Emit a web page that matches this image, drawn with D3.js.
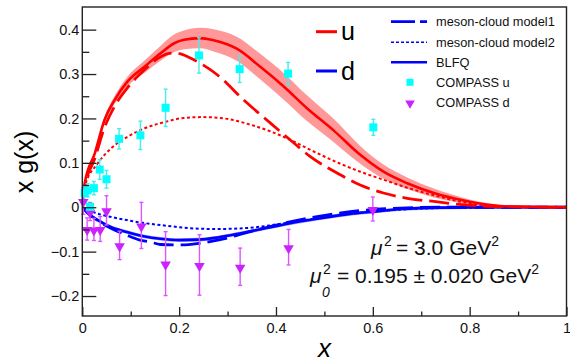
<!DOCTYPE html>
<html>
<head>
<meta charset="utf-8">
<script src="https://cdn.jsdelivr.net/npm/d3@7"></script>
<style>
  body { margin: 0; background: #fff; }
  svg { display: block; font-family: 'Liberation Sans', Arial, sans-serif; }
</style>
</head>
<body>
<div id="chart"></div>
<script>
// u quark, BLFQ (solid + band)
const uBlfqX = [0.001, 0.005, 0.026, 0.046, 0.067, 0.094, 0.129, 0.163, 0.191, 0.21, 0.243, 0.271, 0.319, 0.367, 0.416, 0.464, 0.52, 0.574, 0.622, 0.671, 0.726, 0.788, 0.843, 0.9, 1.0];
const uBlfqY = [0.01, 0.054, 0.122, 0.197, 0.242, 0.284, 0.317, 0.348, 0.370, 0.377, 0.381, 0.376, 0.357, 0.317, 0.272, 0.223, 0.172, 0.118, 0.080, 0.054, 0.032, 0.015, 0.005, 0.001, 0];
const uBlfqErr = [0, 0.002, 0.005, 0.007, 0.009, 0.011, 0.014, 0.017, 0.02, 0.021, 0.023, 0.025, 0.027, 0.029, 0.03, 0.029, 0.026, 0.02, 0.016, 0.013, 0.01, 0.006, 0.003, 0.001, 0];
// u quark, meson-cloud models
const uM1X = [0.001, 0.005, 0.026, 0.046, 0.067, 0.094, 0.129, 0.16, 0.185, 0.2, 0.223, 0.25, 0.278, 0.333, 0.388, 0.429, 0.471, 0.533, 0.574, 0.622, 0.671, 0.726, 0.774, 0.822, 0.9, 1.0];
const uM1Y = [0.01, 0.045, 0.11, 0.18, 0.228, 0.27, 0.31, 0.338, 0.347, 0.346, 0.336, 0.32, 0.299, 0.242, 0.190, 0.152, 0.114, 0.073, 0.050, 0.032, 0.020, 0.013, 0.007, 0.003, 0.001, 0];
const uM2X = [0.001, 0.005, 0.032, 0.06, 0.094, 0.129, 0.174, 0.209, 0.25, 0.299, 0.347, 0.388, 0.429, 0.464, 0.533, 0.574, 0.622, 0.671, 0.726, 0.774, 0.822, 0.9, 1.0];
const uM2Y = [0.005, 0.046, 0.099, 0.133, 0.159, 0.178, 0.193, 0.201, 0.203, 0.199, 0.186, 0.171, 0.152, 0.133, 0.098, 0.080, 0.062, 0.044, 0.027, 0.014, 0.005, 0.001, 0];
// d quark
const dBlfqX = [0.001, 0.01, 0.032, 0.06, 0.092, 0.129, 0.161, 0.2, 0.24, 0.28, 0.33, 0.38, 0.43, 0.485, 0.553, 0.6, 0.66, 0.74, 0.85, 1.0];
const dBlfqY = [0, -0.012, -0.029, -0.045, -0.056, -0.066, -0.071, -0.074, -0.073, -0.068, -0.058, -0.047, -0.036, -0.026, -0.015, -0.010, -0.004, -0.001, 0, 0];
const dM1X = [0.001, 0.01, 0.032, 0.057, 0.09, 0.119, 0.14, 0.161, 0.195, 0.22, 0.243, 0.285, 0.347, 0.416, 0.485, 0.553, 0.657, 0.75, 0.85, 1.0];
const dM1Y = [0, -0.012, -0.03, -0.046, -0.062, -0.074, -0.078, -0.084, -0.085, -0.084, -0.081, -0.073, -0.055, -0.036, -0.021, -0.010, -0.002, 0, 0, 0];
const dM2X = [0.001, 0.03, 0.06, 0.092, 0.13, 0.161, 0.2, 0.23, 0.278, 0.32, 0.367, 0.416, 0.485, 0.553, 0.62, 0.7, 0.8, 0.9, 1.0];
const dM2Y = [0, -0.014, -0.022, -0.029, -0.036, -0.040, -0.045, -0.048, -0.049, -0.048, -0.044, -0.036, -0.025, -0.015, -0.008, -0.003, -0.001, 0, 0];
// COMPASS points
const compUX = [0.005, 0.011, 0.016, 0.024, 0.036, 0.05, 0.076, 0.12, 0.172, 0.241, 0.325, 0.425, 0.601];
const compUY = [0.032, 0.038, 0.001, 0.043, 0.085, 0.063, 0.154, 0.162, 0.224, 0.342, 0.311, 0.301, 0.18];
const compUErr = [0.015, 0.015, 0.01, 0.015, 0.022, 0.02, 0.023, 0.032, 0.042, 0.04, 0.03, 0.025, 0.018];
const compDX = [0.002, 0.01, 0.016, 0.024, 0.037, 0.05, 0.077, 0.122, 0.172, 0.242, 0.326, 0.426, 0.6];
const compDY = [0.014, -0.049, -0.01, -0.05, -0.049, -0.007, -0.086, -0.041, -0.127, -0.13, -0.134, -0.09, -0.004];
const compDErr = [0.03, 0.025, 0.02, 0.025, 0.028, 0.033, 0.032, 0.052, 0.072, 0.068, 0.042, 0.04, 0.027];
// axes
const xMajor = [0, 0.2, 0.4, 0.6, 0.8, 1];
const xMinor = [0.1, 0.3, 0.5, 0.7, 0.9];
const yMajor = [-0.2, -0.1, 0, 0.1, 0.2, 0.3, 0.4];
const yMinor = [-0.15, -0.05, 0.05, 0.15, 0.25, 0.35];

const width = 570, height = 364;
const red = '#ff0000', blue = '#0000ff', cyan = '#00ffff', violet = '#cc22ff';

const svg = d3.select('#chart').append('svg')
  .attr('width', width)
  .attr('height', height);

const x = d3.scaleLinear().domain([0, 1]).range([82.3, 566.5]);
const y = d3.scaleLinear().domain([-0.245, 0.451]).range([316, 7]);

const zip = (xs, ys) => xs.map((v, i) => [v, ys[i]]);
const line = d3.line().x(d => x(d[0])).y(d => y(d[1])).curve(d3.curveMonotoneX);

// u band
const band = d3.area()
  .x(d => x(d[0]))
  .y0(d => y(d[1] - d[2]))
  .y1(d => y(d[1] + d[2]))
  .curve(d3.curveMonotoneX);
svg.append('path')
  .attr('d', band(uBlfqX.map((v, i) => [v, uBlfqY[i], uBlfqErr[i]])))
  .attr('fill', '#ff9999');

// d curves (BLFQ with a thin light band)
svg.append('path')
  .attr('d', band(dBlfqX.map((v, i) => [v, dBlfqY[i], 0.004])))
  .attr('fill', '#a8a8ff');
const curves = [
  { xs: dM2X, ys: dM2Y, color: blue, dash: '3,2.5', w: 2 },
  { xs: dM1X, ys: dM1Y, color: blue, dash: '20,7', w: 2.8 },
  { xs: dBlfqX, ys: dBlfqY, color: blue, dash: null, w: 2.6 },
  { xs: uM2X, ys: uM2Y, color: red, dash: '3,2.5', w: 2 },
  { xs: uM1X, ys: uM1Y, color: red, dash: '20,7', w: 2.8 },
  { xs: uBlfqX, ys: uBlfqY, color: red, dash: null, w: 2.6 }
];
svg.selectAll('path.curve')
  .data(curves)
  .join('path')
  .attr('class', 'curve')
  .attr('d', d => line(zip(d.xs, d.ys)))
  .attr('fill', 'none')
  .attr('stroke', d => d.color)
  .attr('stroke-width', d => d.w)
  .attr('stroke-dasharray', d => d.dash);

// error bars
function errorBars(xs, ys, es, color) {
  const g = svg.append('g').attr('stroke', color).attr('stroke-width', 1.4);
  const pts = xs.map((v, i) => ({ x: v, y: ys[i], e: es[i] }));
  g.selectAll('line.v').data(pts).join('line').attr('class', 'v')
    .attr('x1', d => x(d.x)).attr('x2', d => x(d.x))
    .attr('y1', d => y(d.y - d.e)).attr('y2', d => y(d.y + d.e));
  g.selectAll('line.t').data(pts).join('line').attr('class', 't')
    .attr('x1', d => x(d.x) - 2).attr('x2', d => x(d.x) + 2)
    .attr('y1', d => y(d.y + d.e)).attr('y2', d => y(d.y + d.e));
  g.selectAll('line.b').data(pts).join('line').attr('class', 'b')
    .attr('x1', d => x(d.x) - 2).attr('x2', d => x(d.x) + 2)
    .attr('y1', d => y(d.y - d.e)).attr('y2', d => y(d.y - d.e));
  return pts;
}

const uPts = errorBars(compUX, compUY, compUErr, '#44eeee');
const dPts = errorBars(compDX, compDY, compDErr, '#dd55ff');

const tri = d3.symbol().type(d3.symbolTriangle).size(48);
svg.selectAll('path.dmark')
  .data(dPts)
  .join('path')
  .attr('class', 'dmark')
  .attr('d', tri)
  .attr('transform', d => `translate(${x(d.x)},${y(d.y) + 1}) rotate(180)`)
  .attr('fill', violet);

svg.selectAll('rect.umark')
  .data(uPts)
  .join('rect')
  .attr('class', 'umark')
  .attr('x', d => x(d.x) - 4)
  .attr('y', d => y(d.y) - 4)
  .attr('width', 8)
  .attr('height', 8)
  .attr('fill', cyan);

// axes
const axisColor = '#222';
svg.append('g')
  .attr('transform', `translate(${x(0)},0)`)
  .call(d3.axisLeft(y).tickValues(yMajor).tickSize(-14).tickPadding(3).tickFormat(d3.format('')));
svg.append('g')
  .attr('transform', `translate(${x(0)},0)`)
  .call(d3.axisLeft(y).tickValues(yMinor).tickSize(-7).tickFormat(''));
svg.append('g')
  .attr('transform', `translate(0,${y.range()[0]})`)
  .call(d3.axisBottom(x).tickValues(xMajor).tickSize(-9).tickPadding(7).tickFormat(d3.format('')));
svg.append('g')
  .attr('transform', `translate(0,${y.range()[0]})`)
  .call(d3.axisBottom(x).tickValues(xMinor).tickSize(-4.5).tickFormat(''));
svg.selectAll('.domain').remove();
svg.selectAll('.tick line').attr('stroke', axisColor).attr('stroke-width', 1.3);
svg.selectAll('.tick text')
  .attr('font-family', "'Liberation Sans', Arial, sans-serif")
  .attr('font-size', 14.5)
  .attr('fill', '#111');

svg.append('rect')
  .attr('x', x(0)).attr('y', y.range()[1])
  .attr('width', x(1) - x(0)).attr('height', y.range()[0] - y.range()[1])
  .attr('fill', 'none')
  .attr('stroke', axisColor)
  .attr('stroke-width', 1.4);

// axis titles
svg.append('text')
  .attr('x', x(0.5)).attr('y', 357)
  .attr('text-anchor', 'middle')
  .attr('font-size', 26)
  .attr('font-style', 'italic')
  .text('x');
svg.append('text')
  .attr('transform', 'translate(33,162) rotate(-90)')
  .attr('text-anchor', 'middle')
  .attr('font-size', 25)
  .text('x g(x)');

// u / d legend
const udLegend = [{ label: 'u', color: red, ly: 31.7, ty: 40 }, { label: 'd', color: blue, ly: 71, ty: 80 }];
const udG = svg.selectAll('g.ud').data(udLegend).join('g').attr('class', 'ud');
udG.append('line')
  .attr('x1', 316).attr('x2', 337)
  .attr('y1', d => d.ly).attr('y2', d => d.ly)
  .attr('stroke', d => d.color).attr('stroke-width', 3);
udG.append('text')
  .attr('x', 341).attr('y', d => d.ty)
  .attr('font-size', 25)
  .text(d => d.label);

// model legend
const legendItems = [
  { label: 'meson-cloud model1', kind: 'line', dash: '24,5', w: 2.8 },
  { label: 'meson-cloud model2', kind: 'line', dash: '3,2', w: 1.6 },
  { label: 'BLFQ', kind: 'line', dash: null, w: 2.6 },
  { label: 'COMPASS u', kind: 'square' },
  { label: 'COMPASS d', kind: 'tri' }
];
const legY = [21.7, 42.3, 62.3, 82.3, 102.3];
const lg = svg.selectAll('g.leg').data(legendItems).join('g')
  .attr('class', 'leg')
  .attr('transform', (d, i) => `translate(0,${legY[i]})`);
lg.filter(d => d.kind === 'line').append('line')
  .attr('x1', 391).attr('x2', 427)
  .attr('stroke', blue)
  .attr('stroke-width', d => d.w)
  .attr('stroke-dasharray', d => d.dash);
lg.filter(d => d.kind === 'square').append('rect')
  .attr('x', 406.5).attr('y', -3.5).attr('width', 7).attr('height', 7)
  .attr('fill', cyan);
lg.filter(d => d.kind === 'tri').append('path')
  .attr('d', d3.symbol().type(d3.symbolTriangle).size(40))
  .attr('transform', 'translate(410,1) rotate(180)')
  .attr('fill', violet);
lg.append('text')
  .attr('x', 436).attr('y', 4.5)
  .attr('font-size', 12.8)
  .attr('fill', '#111')
  .text(d => d.label);

// scale annotations
const ann = svg.append('g').attr('font-size', 21).attr('fill', '#111');
ann.append('text').attr('x', 371).attr('y', 255).attr('font-style', 'italic').text('\u03bc');
ann.append('text').attr('x', 384).attr('y', 246).attr('font-size', 14).text('2');
const t1 = ann.append('text').attr('x', 396).attr('y', 255).text('= 3.0 GeV');
t1.append('tspan').attr('dy', -9).attr('font-size', 14).text('2');

ann.append('text').attr('x', 310).attr('y', 283).attr('font-style', 'italic').text('\u03bc');
ann.append('text').attr('x', 323).attr('y', 274).attr('font-size', 14).text('2');
ann.append('text').attr('x', 322).attr('y', 297).attr('font-size', 14).attr('font-style', 'italic').text('0');
const t2 = ann.append('text').attr('x', 337).attr('y', 283).text('= 0.195 \u00b1 0.020 GeV');
t2.append('tspan').attr('dy', -9).attr('font-size', 14).text('2');
</script>
</body>
</html>
